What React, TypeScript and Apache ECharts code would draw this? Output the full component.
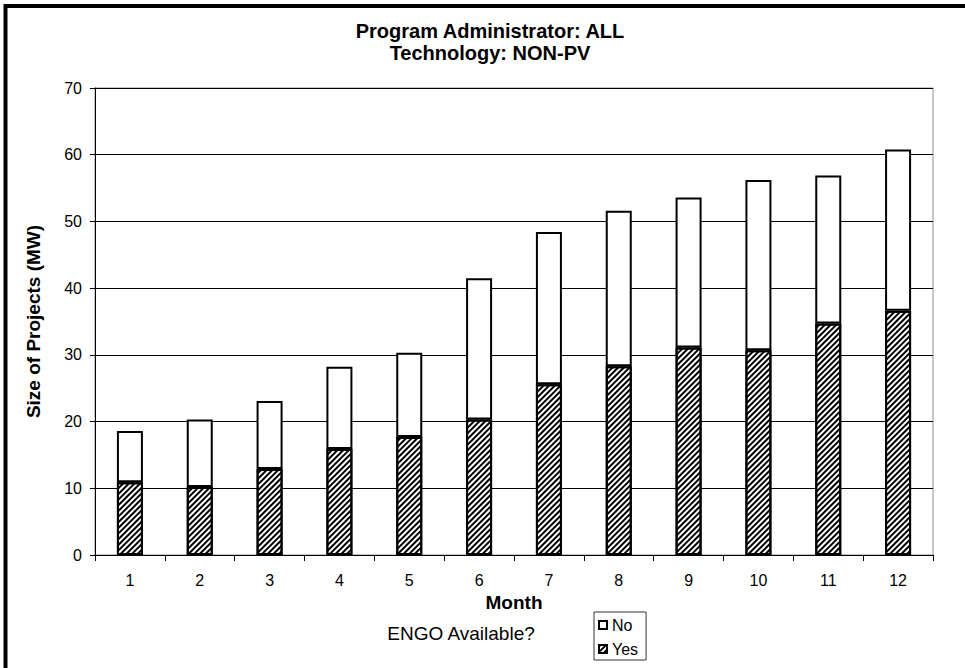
import React, { useEffect, useRef } from "react";
import * as echarts from "echarts";

// Monthly cumulative size of NON-PV projects (MW), split by ENGO availability
const months = ["1", "2", "3", "4", "5", "6", "7", "8", "9", "10", "11", "12"];
const yesValues = [10.9, 10.2, 12.9, 15.9, 17.7, 20.3, 25.6, 28.3, 31.1, 30.7, 34.7, 36.6];
const noValues = [7.7, 10.1, 10.2, 12.3, 12.6, 21.2, 22.8, 23.3, 22.5, 25.5, 22.2, 24.2];
const yTicks = { min: 0, max: 70, interval: 10 };
const titleLines = ["Program Administrator: ALL", "Technology: NON-PV"];

const FONT = '"Liberation Sans", Arial, Helvetica, sans-serif';

export default function App() {
  const ref = useRef<HTMLDivElement>(null);

  useEffect(() => {
    document.body.style.margin = "0";
    if (!ref.current) return;
    const chart = echarts.init(ref.current, null, { renderer: "svg" });

    // diagonal "/" hatching for the ENGO-available segment
    const hatch = {
      symbol: "rect",
      symbolSize: 1,
      dashArrayX: [[1, 0]],
      dashArrayY: [1.8, 1.5],
      rotation: -Math.PI / 4,
      color: "#000",
      backgroundColor: "#fff",
    };

    chart.setOption({
      animation: false,
      backgroundColor: "#fff",
      textStyle: { fontFamily: FONT },
      grid: {
        left: 95,
        top: 88,
        width: 838,
        height: 467,
        show: true,
        borderColor: "#8c8c8c",
        borderWidth: 1,
        backgroundColor: "transparent",
      },
      legend: {
        data: ["No", "Yes"],
        orient: "vertical",
        left: 594,
        top: 612,
        padding: [4, 8, 2, 4],
        itemGap: 6,
        itemWidth: 8,
        itemHeight: 8,
        icon: "rect",
        borderColor: "#333",
        borderWidth: 1,
        textStyle: { fontSize: 16, color: "#000", fontFamily: FONT, lineHeight: 18 },
      },
      xAxis: {
        type: "category",
        data: months,
        boundaryGap: true,
        name: "Month",
        nameLocation: "middle",
        nameGap: 31,
        nameTextStyle: { fontSize: 19, fontWeight: "bold", color: "#000", fontFamily: FONT },
        axisLine: { lineStyle: { color: "#000", width: 1 } },
        axisTick: { show: true, length: 6, interval: 0, lineStyle: { color: "#000" } },
        axisLabel: { fontSize: 16, color: "#000", margin: 17, fontFamily: FONT },
        splitLine: { show: false },
      },
      yAxis: {
        type: "value",
        min: yTicks.min,
        max: yTicks.max,
        interval: yTicks.interval,
        name: "Size of Projects (MW)",
        nameLocation: "middle",
        nameRotate: 90,
        nameGap: 52,
        nameTextStyle: { fontSize: 19, fontWeight: "bold", color: "#000", fontFamily: FONT },
        axisLine: { show: true, lineStyle: { color: "#000", width: 1 } },
        axisTick: { show: true, length: 5, lineStyle: { color: "#000" } },
        axisLabel: { fontSize: 16, color: "#000", margin: 13, fontFamily: FONT },
        splitLine: { show: true, lineStyle: { color: "#000", width: 1 } },
      },
      series: [
        {
          name: "Yes",
          type: "bar",
          stack: "engo",
          data: yesValues,
          barWidth: 26,
          itemStyle: { color: "#fff", borderColor: "#000", borderWidth: 2, decal: hatch },
        },
        {
          name: "No",
          type: "bar",
          stack: "engo",
          data: noValues,
          barWidth: 26,
          itemStyle: { color: "#fff", borderColor: "#000", borderWidth: 2 },
        },
      ],
      graphic: [
        {
          type: "rect",
          shape: { x: 5.5, y: 6, width: 1000, height: 700 },
          style: { fill: "none", stroke: "#000", lineWidth: 4 },
          silent: true,
        },
        {
          type: "text",
          x: 490,
          y: 31,
          style: {
            text: titleLines[0],
            font: `bold 20px ${FONT}`,
            fill: "#000",
            textAlign: "center",
            textVerticalAlign: "middle",
          },
        },
        {
          type: "text",
          x: 490,
          y: 53,
          style: {
            text: titleLines[1],
            font: `bold 20px ${FONT}`,
            fill: "#000",
            textAlign: "center",
            textVerticalAlign: "middle",
          },
        },
        {
          type: "text",
          x: 461,
          y: 633,
          style: {
            text: "ENGO Available?",
            font: `19px ${FONT}`,
            fill: "#000",
            textAlign: "center",
            textVerticalAlign: "middle",
          },
        },
      ],
    });

    return () => chart.dispose();
  }, []);

  return <div ref={ref} style={{ width: 965, height: 668 }} />;
}
